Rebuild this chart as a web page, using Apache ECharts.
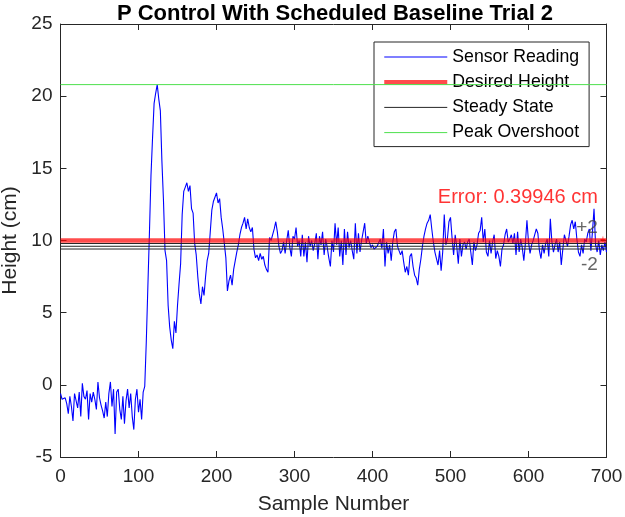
<!DOCTYPE html>
<html><head><meta charset="utf-8">
<script src="https://cdn.jsdelivr.net/npm/echarts@6/dist/echarts.min.js"></script>
<style>html,body{margin:0;padding:0;background:#fff}#c{width:625px;height:517px}</style>
</head><body><div id="c"></div>
<script>
// Sensor readings, one value every 2 samples (samples 0..700)
const preRise = [-0.6,-1.0,-1.1,-0.9,-1.3,-2.0,-0.8,-1.5,-2.5,-0.6,-0.5,-1.6,-0.5,-2.2,0.1,-0.8,-1.0,-0.4,-2.4,-0.6,-1.2,-0.5,-1.0,-1.7,0.2,-0.9,-1.4,-1.8,-2.3,-1.2,-2.2,-0.6,0.2,-1.5,-0.3,-3.4,-0.5,-0.3,-1.7,-2.4,-0.8,-2.7,-1.1,-0.3,-1.6,-0.6,-2.2,-3.1,-1.0,-0.3,-1.9,-1.0,-2.4,-0.5,-0.1];
const transient = [3.0,6.8,10.5,14.5,17.1,19.5,20.2,20.8,19.8,19.0,15.5,12.8,9.3,8.6,5.5,4.0,3.1,2.5,4.4,3.6,5.5,7.0,8.4,11.8,13.4,13.7,14.0,13.4,13.8,12.2,11.9,9.8,9.0,7.5,6.3,5.6,6.8,6.2,7.5,8.6,9.1,10.6,12.1,12.7,13.0,13.3,12.6,12.9,11.6,10.8,9.8,8.8,6.5,7.2,7.6,6.9,8.0,7.9,9.2,9.7,10.4,10.9,11.2,11.6,10.8,11.5,10.9];
const settleA = [10.6,10.9,9.4,8.8,9.0,8.6,9.1,8.7,8.9,8.3,8.0,7.8,10.2,10.0,10.4,10.8,11.3,10.6,9.6,9.1,9.3,9.9,9.1,10.0,10.7,9.5,8.9,10.3,10.1,10.9,9.6,10.0,8.9,10.4,8.9,9.9,8.5,10.3,9.6,10.0,9.3,9.8,10.5,8.7,10.3,9.7,10.6,9.0,10.1,9.5,8.8,8.2,10.0,9.2,11.2,9.7,10.9,8.9,10.0,8.3,10.8,9.0,10.6,9.5,10.0,9.3,8.7,11.2,9.1,10.5,9.2,10.0,10.6,11.2,9.8,10.3,10.2,9.5,9.7,9.4,9.5,9.6,9.7,10.1,9.45,10.8,8.2,9.9,9.1,9.7,8.6,9.9,10.6,10.8,9.6,9.3,9.0,9.3,8.5,7.8,8.2,7.6,8.9,9.1,8.2,7.6,7.4,6.9,8.0,8.7,9.6,10.3,10.8,11.2,11.4,11.8];
const settleB = [10.8,9.9,9.2,8.75,8.3,9.3,7.9,9.2,11.8,9.7,10.1,11.3,11.6,10.2,9.0,10.4,9.6,8.4,10.1,8.9,9.7,9.9,9.4,9.9,10.1,9.2,8.3,9.9,9.3,9.7,10.5,10.7,11.6,9.9,10.8,9.2,8.9,10.0,9.1,9.9,10.4,8.75,9.3,8.9,8.2,9.4,9.7,10.4,10.8,9.9,10.1,10.4,9.8,10.5,9.0,10.6,9.2,10.1,9.5,8.6,9.8,11.4,9.9,9.1,9.7,10.0,10.4,10.8,10.5,9.3,8.75,9.7,9.1,9.8,10.1,8.9,11.5,9.9,9.2,9.7,10.1,9.2,9.9,8.3,9.4,10.4,10.0,9.6,10.3,11.1,11.4,10.8,11.3,10.1,9.2,8.9,9.7,9.1,10.1,9.9,10.5,10.8,9.3,10.6,12.2,9.7,9.2,10.0,9.0,9.7,9.3,9.9,9.2];
const sampleStep = 2;

const xRange = [0, 700];
const yRange = [-5, 25];
const desiredHeight = 10;
const steadyState = 9.6005;
const bandUpper = 9.79;
const bandLower = 9.41;
const peakOvershoot = 20.8;

const annotations = [
  [689, 13.0, 'Error: 0.39946 cm', '#ff0000', 20],
  [689, 10.85, '+2', '#404040', 19],
  [689, 8.3, '-2', '#404040', 19],
  [699, 10.0, '+', '#ff0000', 10]
];

const heights = preRise.concat(transient, settleA, settleB);
const sensorData = heights.map((h, i) => [i * sampleStep, h]);
const hline = v => [[xRange[0], v], [xRange[1], v]];

const FONT = "'Liberation Sans', Arial, sans-serif";
const AX = '#262626';
const RED = 'rgba(255,0,0,0.7)';
const GREEN = '#4ee04e';

const chart = echarts.init(document.getElementById('c'));
function axisCommon(show, margin) {
  return {
    axisLine: {show: true, onZero: false, lineStyle: {color: AX, width: 1}},
    axisTick: {show: true, inside: true, length: 6, lineStyle: {color: AX, width: 1}},
    axisLabel: {show: show, fontSize: 19, color: AX, fontFamily: FONT, margin: margin || 8},
    splitLine: {show: false}
  };
}
chart.setOption({
  animation: false,
  textStyle: {fontFamily: FONT},
  title: {
    text: 'P Control With Scheduled Baseline Trial 2',
    left: 330, top: -2, textAlign: 'center',
    textStyle: {fontSize: 22, fontWeight: 'bold', color: '#000', fontFamily: FONT}
  },
  grid: {left: 60.5, right: 18.5, top: 24, bottom: 60, containLabel: false, outerBoundsMode: 'none'},
  legend: {
    data: ['Sensor Reading', 'Desired Height', 'Steady State', 'Peak Overshoot'],
    orient: 'vertical', left: 374, top: 42,
    padding: [6, 10, 5, 8], itemGap: 7.2, itemWidth: 63, itemHeight: 17,
    backgroundColor: '#fff', borderColor: AX, borderWidth: 1, borderRadius: 0,
    itemStyle: {opacity: 0},
    lineStyle: {width: 'inherit'},
    textStyle: {fontSize: 17.7, color: '#000', fontFamily: FONT},
    selectedMode: false
  },
  xAxis: [
    Object.assign({type: 'value', min: xRange[0], max: xRange[1], interval: 100, position: 'bottom',
      name: 'Sample Number', nameLocation: 'middle', nameGap: 37,
      nameTextStyle: {fontSize: 21, color: AX, fontFamily: FONT}}, axisCommon(true, 10)),
    Object.assign({type: 'value', min: xRange[0], max: xRange[1], interval: 100, position: 'top'}, axisCommon(false))
  ],
  yAxis: [
    Object.assign({type: 'value', min: yRange[0], max: yRange[1], interval: 5, position: 'left',
      name: 'Height (cm)', nameLocation: 'middle', nameGap: 32,
      nameTextStyle: {fontSize: 21, color: AX, fontFamily: FONT}}, axisCommon(true, 8)),
    Object.assign({type: 'value', min: yRange[0], max: yRange[1], interval: 5, position: 'right'}, axisCommon(false))
  ],
  series: [
    {name: 'Sensor Reading', type: 'line', data: sensorData, showSymbol: false, symbol: 'none',
      lineStyle: {color: '#0000ff', width: 1.1}, itemStyle: {color: '#0000ff'}, z: 2},
    {name: 'Desired Height', type: 'line', data: hline(desiredHeight), showSymbol: false, symbol: 'none',
      lineStyle: {color: RED, width: 4.5}, itemStyle: {color: RED}, z: 3},
    {name: 'Steady State', type: 'line', data: hline(steadyState), showSymbol: false, symbol: 'none',
      lineStyle: {color: AX, width: 1}, itemStyle: {color: AX}, z: 4},
    {name: 'Steady State', type: 'line', data: hline(bandUpper), showSymbol: false, symbol: 'none',
      lineStyle: {color: AX, width: 1}, itemStyle: {color: AX}, z: 4},
    {name: 'Steady State', type: 'line', data: hline(bandLower), showSymbol: false, symbol: 'none',
      lineStyle: {color: AX, width: 1}, itemStyle: {color: AX}, z: 4},
    {name: 'Peak Overshoot', type: 'line', data: hline(peakOvershoot), showSymbol: false, symbol: 'none',
      lineStyle: {color: GREEN, width: 1}, itemStyle: {color: GREEN}, z: 4},
    {name: 'notes', type: 'scatter', silent: true, symbolSize: 1, z: 6,
      itemStyle: {color: 'transparent'},
      data: annotations.map(a => ({value: [a[0], a[1]], label: {color: a[3], fontSize: a[4]}, name: a[2]})),
      label: {show: true, position: 'inside', align: 'right', verticalAlign: 'middle',
        fontFamily: FONT, formatter: p => p.name}}
  ]
});
</script></body></html>
